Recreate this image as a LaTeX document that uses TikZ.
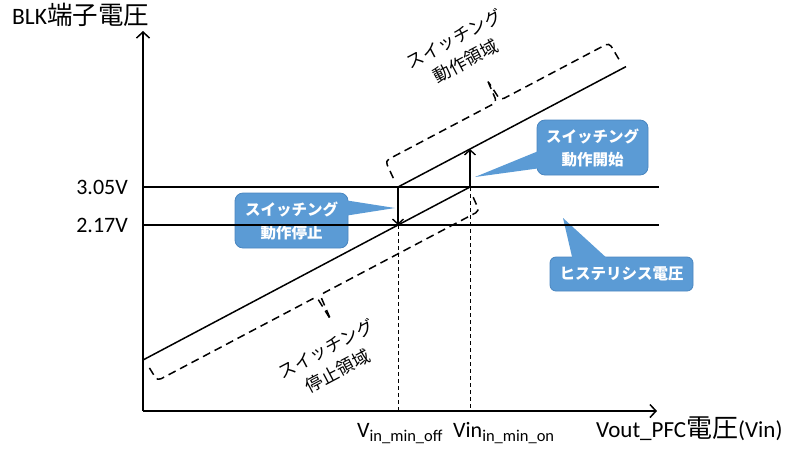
\documentclass[tikz,border=0pt]{standalone}
\usepackage{fontspec}
\setmainfont{Carlito}
\newfontfamily\jp{Noto Sans CJK JP}
\usetikzlibrary{arrows.meta,calc}
\definecolor{cblue}{HTML}{5B9BD5}
\definecolor{cborder}{HTML}{4A86C0}
\begin{document}
\begin{tikzpicture}[x=1pt,y=-1pt,
  axisline/.style={line width=1.5pt,-{Straight Barb[length=6pt,width=13pt,line width=1.5pt]}},
  mainline/.style={line width=1.5pt},
  arrline/.style={line width=1.5pt,-{Straight Barb[length=5pt,width=11pt,line width=1.4pt]}},
  guide/.style={line width=0.9pt,dash pattern=on 4pt off 3pt},
  bracket/.style={line width=1.5pt,dash pattern=on 8pt off 5pt,rounded corners=4pt},
  callout/.style={fill=cblue,draw=cborder,line width=0.8pt,rounded corners=8pt,text=white,
    align=center,font=\jp\bfseries\fontsize{15.5}{23}\selectfont,inner sep=0pt},
  pointer/.style={fill=cblue},
  lbl/.style={inner sep=0pt,font=\fontsize{22}{26}\selectfont},
  rlabel/.style={align=center,rotate=27.8,inner sep=0pt,font=\jp\fontsize{17.5}{25}\selectfont}
]
\useasboundingbox (0,0) rectangle (789,451);

% callouts
\node[callout,minimum width=111pt,minimum height=55pt] (c1) at (592.5,147.5) {スイッチング\\動作開始};
\coordinate (t1) at (475,177);
\fill[pointer] (t1) -- (541,150) -- (541,168) -- cycle;

\node[callout,minimum width=113pt,minimum height=55pt] (c2) at (291.5,220.5) {スイッチング\\動作停止};
\coordinate (t2) at (395,208);
\fill[pointer] (t2) -- (344,200) -- (344,216) -- cycle;

\node[callout,rounded corners=6pt,minimum width=143pt,minimum height=34pt] (c3) at (621.5,274) {ヒステリシス電圧};
\coordinate (t3) at (563,218);
\fill[pointer] (t3) -- (573,261) -- (610,261) -- cycle;

% axes
\coordinate (O) at (143,411);
\coordinate (Ytop) at (143,31);
\coordinate (Xend) at (657,411);
\draw[axisline] (O) -- (Ytop);
\draw[axisline] (O) -- (Xend);

% threshold lines
\coordinate (h1a) at (143,187); \coordinate (h1b) at (659,187);
\coordinate (h2a) at (143,225); \coordinate (h2b) at (659,225);
\draw[mainline] (h1a) -- (h1b);
\draw[mainline] (h2a) -- (h2b);

% characteristic lines
\coordinate (L0) at (143,360);
\coordinate (Poff) at (398,225);
\coordinate (Pon) at (470,187);
\coordinate (U0) at (398,187);
\coordinate (Uon) at (470,149);
\coordinate (U1) at (626,66.6);
\draw[mainline] (L0) -- (Poff) -- (Pon);
\draw[mainline] (U0) -- (Uon) -- (U1);
\draw[arrline] (U0) -- (Poff);
\draw[arrline] (Pon) -- (Uon);

% guides
\coordinate (Goff) at (398,411);
\coordinate (Gon) at (470,411);
\draw[guide] (Poff) -- (Goff);
\draw[guide] (Pon) -- (Gon);

% brackets
\begin{scope}[shift={(398,187)},rotate=27.8]
  \draw[bracket] (0,-10) -- (1,-29) -- (127,-29) -- (129,-54);
  \draw[bracket] (255,-10) -- (254,-29) -- (131,-29) -- (129,-50);
\end{scope}
\begin{scope}[shift={(143,360)},rotate=27.8]
  \draw[bracket] (2,10) -- (3,25) -- (183,25) -- (185,54);
  \draw[bracket] (368,10) -- (367,25) -- (187,25) -- (185,50);
\end{scope}

\node[rlabel] (r1) at (460,50) {スイッチング\\動作領域};
\node[rlabel] (r2) at (332,360) {スイッチング\\停止領域};

% labels
\node[anchor=base west,inner sep=0pt,font=\fontsize{23.5}{26}\selectfont] (ylab) at (12,24.5) {BLK{\jp\fontsize{25.5}{26}\selectfont 端子電圧}};
\node[lbl,anchor=east] (v305) at (128,187) {3.05V};
\node[lbl,anchor=east] (v217) at (128,225) {2.17V};
\node[lbl,anchor=base west] (xoff) at (357,437) {V{\fontsize{16.5}{18}\selectfont\raisebox{-4pt}{in\_min\_off}}};
\node[lbl,anchor=base west] (xon) at (453,437) {Vin{\fontsize{16.5}{18}\selectfont\raisebox{-4pt}{in\_min\_on}}};
\node[anchor=base west,inner sep=0pt,font=\fontsize{23}{26}\selectfont] (xlab) at (596,437) {Vout\_PFC{\jp\fontsize{26}{26}\selectfont 電圧}(Vin)};
\end{tikzpicture}
\end{document}
